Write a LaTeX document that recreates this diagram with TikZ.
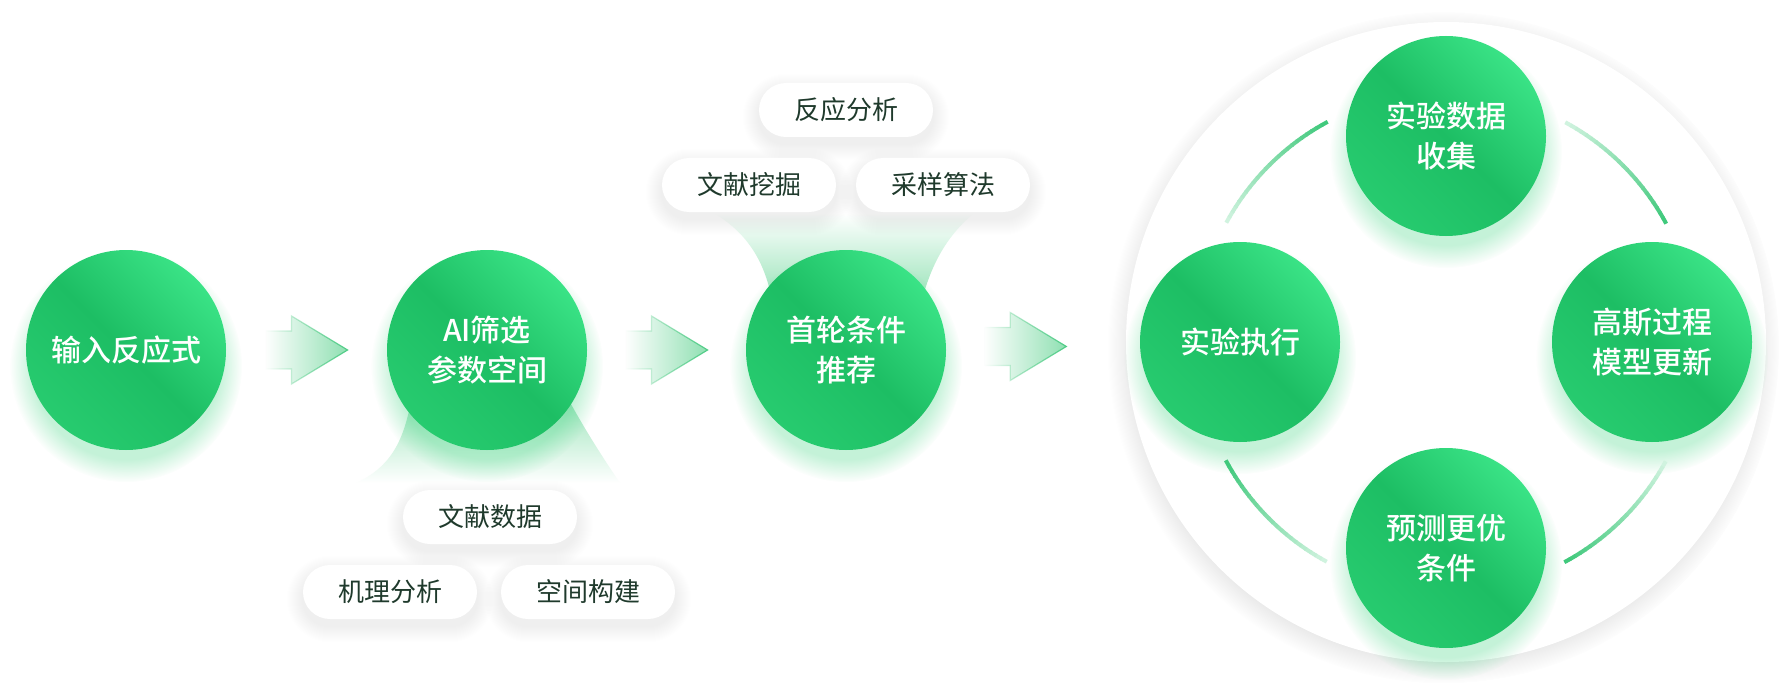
\documentclass[tikz,border=0pt]{standalone}
\usepackage{fontspec}
\setmainfont{Noto Sans CJK SC}
\newfontfamily\medfont{Noto Sans CJK SC Medium}
\usetikzlibrary{calc,fadings}
\pgfdeclarelayer{back}
\pgfdeclarelayer{ringl}
\pgfdeclarelayer{soft}
\pgfsetlayers{back,ringl,soft,main}
\definecolor{gLight}{HTML}{3AE386}
\definecolor{gMid}{HTML}{1DBE64}
\definecolor{gDark}{HTML}{27CB6F}
\definecolor{glowc}{HTML}{3CD57F}
\definecolor{pilltext}{HTML}{1F3A2C}
\definecolor{arrowfill}{HTML}{8FE0B2}
\definecolor{arrowline}{HTML}{4FCC86}
\definecolor{arcdark}{HTML}{40C97C}
\definecolor{arclight}{HTML}{D0F3DF}
\definecolor{funnelc}{HTML}{98E3B8}
\tikzset{
 gcirc/.style={circle, minimum size=200, inner sep=0pt, top color=gLight, bottom color=gDark, middle color=gMid, shading angle=-45, text=white, align=center, font=\fontsize{30}{40}\selectfont\medfont},
 pill/.style={rectangle, rounded corners=27pt, minimum width=174, minimum height=54, inner sep=0pt, fill=white, text=pilltext, font=\fontsize{26}{30}\selectfont},
 flowarrow/.style={fill=arrowfill, draw=arrowline, line width=1.2pt, line join=miter, path fading=west},
 arcseg/.style={line width=4pt},
 glowstyle/.style={fill=glowc, opacity=0.3, path fading=circle with fuzzy edge 20 percent},
 pillshadow/.style={fill=black, opacity=0.0055},
}
\begin{document}
\begin{tikzpicture}[x=1pt,y=-1pt]
\begin{pgfonlayer}{back}
\fill[white] (0,0) rectangle (1786,690);
\end{pgfonlayer}
\useasboundingbox (0,0) rectangle (1786,690);

% big ring
\begin{pgfonlayer}{ringl}
\node[circle, minimum size=640, inner sep=0pt, fill=white] (ring) at (1446,342) {};
\end{pgfonlayer}
\begin{pgfonlayer}{back}
\fill[black, opacity=0.12, path fading=circle with fuzzy edge 10 percent] ($(ring.center)+(-2,5)$) circle[radius=336];
\end{pgfonlayer}

% main circles
\node[gcirc] (c1) at (126,350) {输入反应式};
\node[gcirc] (c2) at (487,350) {AI筛选\\参数空间};
\node[gcirc] (c3) at (846,350) {首轮条件\\推荐};
\node[gcirc] (r1) at (1446,136) {实验数据\\收集};
\node[gcirc] (r2) at (1652,342) {高斯过程\\模型更新};
\node[gcirc] (r3) at (1446,548) {预测更优\\条件};
\node[gcirc] (r4) at (1240,342) {实验执行};

% pills
\node[pill] (p1) at (490,517) {文献数据};
\node[pill] (p2) at (390,592) {机理分析};
\node[pill] (p3) at (588,592) {空间构建};
\node[pill] (q1) at (846,110) {反应分析};
\node[pill] (q2) at (749,185) {文献挖掘};
\node[pill] (q3) at (943,185) {采样算法};

\begin{pgfonlayer}{soft}
% funnels
\shade[top color=funnelc, bottom color=white] (412,395) .. controls (404,445) and (388,468) .. (356,483) -- (620,483) .. controls (603,458) and (585,430) .. (566,395) -- cycle;
\shade[top color=white, bottom color=funnelc] (714,213) .. controls (745,232) and (764,258) .. (772,300) -- (922,300) .. controls (932,262) and (948,235) .. (974,213) -- cycle;
% glows
\foreach \n in {c1,c2,c3,r1,r2,r3,r4}{
  \fill[glowstyle] ($(\n.center)+(0,16)$) circle[radius=116];
}
% pill shadows
\foreach \n in {p1,p2,p3,q1,q2,q3}{
  \foreach \s in {1,...,16}{
    \pgfmathsetmacro\rr{27+\s}
    \fill[pillshadow, rounded corners=\rr pt] ($(\n.north west)+(-\s,-\s+7)$) rectangle ($(\n.south east)+(\s,\s+7)$);
  }
}
\end{pgfonlayer}

% flow arrows
\coordinate (a1) at ($(c1.east)!0.5!(c2.west)$);
\coordinate (a2) at ($(c2.east)!0.5!(c3.west)$);
\coordinate (a3) at ($(c3.east)!0.44!(ring.west)$);
\foreach \a in {a1,a2,a3}{
  \path[flowarrow] ($(\a)+(-41,-19)$) -- ($(\a)+(-15,-19)$) -- ($(\a)+(-15,-34)$) -- ($(\a)+(41,0)$) -- ($(\a)+(-15,34)$) -- ($(\a)+(-15,19)$) -- ($(\a)+(-41,19)$) -- cycle;
}

% cycle arcs
\foreach \k in {45,135,225,315}{
  \foreach \i in {0,...,23}{
    \pgfmathsetmacro\sa{\k-16.5+33*\i/24}
    \pgfmathsetmacro\ea{\sa+33/24+0.25}
    \pgfmathsetmacro\pc{100*\i/23}
    \draw[arcseg, color=arcdark!\pc!arclight] ($(ring.center)+(\sa:250)$) arc[start angle=\sa, end angle=\ea, radius=250];
  }
}
\end{tikzpicture}
\end{document}
